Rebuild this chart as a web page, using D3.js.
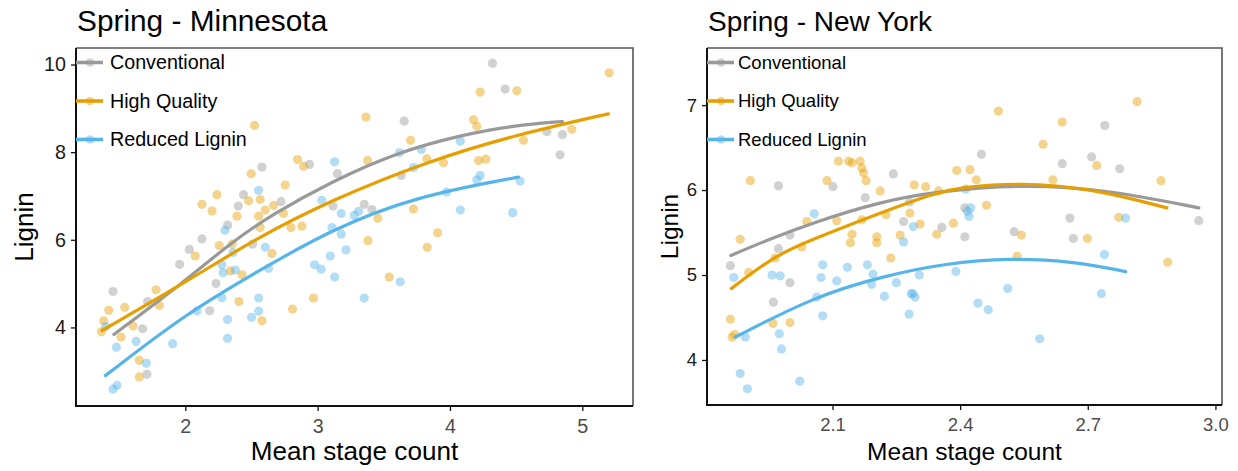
<!DOCTYPE html>
<html>
<head>
<meta charset="utf-8">
<script src="https://cdn.jsdelivr.net/npm/d3@7"></script>
<style>
  body { margin: 0; background: #fff; }
  svg { font-family: "Liberation Sans", Arial, sans-serif; }
  .title { fill: #000; }
  .axis-title { fill: #000; }
  .legend text { fill: #000; }
</style>
</head>
<body>
<div id="chart"></div>
<script>
var seriesNames = ["Conventional", "High Quality", "Reduced Lignin"];
var seriesColors = ["#999999", "#E69F00", "#56B4E9"];

// Spring - Minnesota
var mnXTicks = [2, 3, 4, 5];
var mnYTicks = [4, 6, 8, 10];

var mnConventional = [
  [2.579, 7.66], [2.939, 7.72], [2.44, 7.03], [2.40, 6.77], [2.723, 6.87], [2.32, 6.34], [2.126, 6.02],
  [4.321, 10.03], [4.417, 9.44], [3.654, 8.71], [4.732, 8.47], [4.85, 8.40], [4.832, 7.94], [3.631, 7.47],
  [3.15, 7.51], [3.116, 6.77], [3.352, 6.81], [3.41, 6.69], [2.03, 5.78], [1.957, 5.44], [1.454, 4.82],
  [2.232, 5.0], [2.184, 4.38], [1.677, 3.97], [1.715, 4.59], [1.71, 2.93], [2.508, 5.90]
];
var mnHighQuality = [
  [2.523, 8.61], [2.848, 7.83], [2.894, 7.68], [2.498, 7.51], [2.755, 7.25], [2.239, 7.03], [2.126, 6.81],
  [2.202, 6.66], [2.478, 6.89], [2.566, 6.92], [2.39, 6.54], [2.554, 6.54], [2.604, 6.68], [2.667, 6.78],
  [2.742, 6.60], [2.566, 6.28], [2.798, 6.28], [2.881, 6.31], [5.202, 9.81], [4.228, 9.37], [4.505, 9.40],
  [3.365, 8.80], [4.178, 8.74], [4.203, 8.59], [4.921, 8.52], [4.555, 8.27], [3.702, 8.27], [3.377, 7.81],
  [3.825, 7.85], [3.951, 7.76], [4.216, 7.81], [4.271, 7.84], [3.724, 6.70], [3.455, 6.49], [3.907, 6.16],
  [3.38, 5.98], [2.075, 5.63], [2.257, 5.87], [2.353, 5.90], [2.655, 5.69], [2.428, 5.2], [2.34, 5.29],
  [1.779, 4.86], [1.804, 4.50], [1.542, 4.46], [1.421, 4.39], [1.383, 4.15], [1.366, 3.90], [1.514, 3.78],
  [1.605, 4.03], [1.652, 3.25], [1.652, 2.87], [2.405, 4.59], [2.579, 4.15], [2.81, 4.42], [2.969, 4.67],
  [3.828, 5.83], [3.541, 5.15]
];
var mnReducedLignin = [
  [2.554, 7.13], [3.032, 6.90], [2.30, 6.22], [3.619, 7.99], [3.128, 7.78], [4.078, 8.25], [3.783, 8.06],
  [3.724, 7.65], [4.228, 7.47], [4.203, 7.37], [4.53, 7.34], [3.974, 7.09], [3.178, 6.60], [3.276, 6.56],
  [3.309, 6.65], [4.078, 6.68], [4.474, 6.62], [3.108, 6.28], [3.178, 6.13], [2.277, 5.43], [2.285, 5.25],
  [2.378, 5.31], [2.36, 5.71], [2.604, 5.83], [2.629, 5.35], [2.277, 4.68], [2.088, 4.38], [2.319, 4.18],
  [2.319, 3.75], [2.50, 4.23], [2.554, 4.37], [2.554, 4.67], [1.904, 3.63], [1.628, 3.68], [1.479, 3.55],
  [1.705, 3.18], [1.484, 2.68], [1.454, 2.59], [2.977, 5.43], [3.027, 5.33], [3.095, 5.63], [3.214, 5.77],
  [3.128, 5.15], [3.624, 5.04], [3.352, 4.67], [1.40, 4.02]
];
var mnConventionalFit = [[1.46, 3.84], [2.0, 5.06], [2.35, 5.95], [2.67, 6.60], [3.1, 7.32], [3.6, 8.0], [4.1, 8.40], [4.46, 8.60], [4.85, 8.70]];
var mnHighQualityFit = [[1.371, 3.93], [2.013, 5.05], [2.516, 6.0], [3.095, 6.90], [3.85, 7.81], [4.48, 8.38], [5.197, 8.875]];
var mnReducedLigninFit = [[1.396, 2.90], [2.013, 4.33], [2.542, 5.27], [3.095, 6.22], [3.724, 6.98], [4.517, 7.43]];

// Spring - New York
var nyXTicks = [2.1, 2.4, 2.7, 3.0];
var nyYTicks = [4, 5, 6, 7];

var nyConventional = [
  [1.973, 6.05], [2.101, 6.04], [2.243, 6.19], [2.177, 5.91], [2.281, 5.86], [2.267, 5.63], [2.357, 5.56],
  [2.0, 5.47], [2.45, 6.42], [2.74, 6.76], [2.64, 6.31], [2.709, 6.39], [2.775, 6.25], [2.658, 5.67],
  [2.961, 5.64], [2.411, 5.79], [2.527, 5.51], [2.411, 5.45], [2.666, 5.43], [1.86, 5.11], [1.973, 5.31],
  [2.0, 4.91], [1.961, 4.68]
];
var nyHighQuality = [
  [1.907, 6.11], [2.087, 6.11], [2.114, 6.34], [2.138, 6.34], [2.146, 6.32], [2.165, 6.34], [2.169, 6.26],
  [2.173, 6.20], [2.179, 6.11], [2.212, 5.99], [2.292, 6.06], [2.319, 6.04], [2.349, 5.99], [2.392, 6.23],
  [2.226, 5.71], [2.282, 5.73], [2.169, 5.65], [2.040, 5.63], [2.11, 5.64], [2.204, 5.45], [2.259, 5.47],
  [2.306, 5.60], [1.883, 5.42], [2.146, 5.48], [2.345, 5.48], [2.384, 5.61], [2.490, 6.93], [2.816, 7.04],
  [2.64, 6.80], [2.595, 6.54], [2.721, 6.29], [2.872, 6.11], [2.423, 6.24], [2.438, 6.12], [2.618, 6.12],
  [2.462, 5.82], [2.773, 5.68], [2.544, 5.47], [2.699, 5.43], [1.965, 5.20], [1.903, 5.03], [1.86, 4.48],
  [1.864, 4.27], [1.87, 4.30], [1.96, 4.43], [2.0, 4.44], [2.028, 5.33], [2.142, 5.38], [2.204, 5.38],
  [2.237, 5.20], [2.534, 5.22], [2.888, 5.15]
];
var nyReducedLignin = [
  [2.057, 5.72], [2.29, 5.57], [2.425, 5.79], [2.417, 5.75], [2.421, 5.69], [2.789, 5.67], [2.413, 6.01],
  [1.868, 4.97], [1.958, 5.0], [1.977, 4.99], [1.895, 4.27], [1.975, 4.31], [1.98, 4.13], [1.883, 3.84],
  [1.90, 3.66], [2.023, 3.75], [2.063, 4.74], [2.077, 5.12], [2.073, 4.97], [2.077, 4.52], [2.11, 4.93],
  [2.135, 5.09], [2.182, 5.12], [2.195, 5.01], [2.192, 4.89], [2.222, 4.75], [2.25, 4.91], [2.267, 5.39],
  [2.28, 4.54], [2.285, 4.78], [2.289, 4.78], [2.294, 4.74], [2.304, 5.0], [2.39, 5.04], [2.739, 5.24],
  [2.512, 4.84], [2.442, 4.67], [2.466, 4.59], [2.732, 4.78], [2.587, 4.25]
];
var nyConventionalFit = [[1.861, 5.23], [1.946, 5.41], [2.055, 5.62], [2.212, 5.86], [2.337, 5.98], [2.554, 6.07], [2.75, 6.0], [2.961, 5.79]];
var nyHighQualityFit = [[1.862, 4.84], [1.962, 5.22], [2.048, 5.41], [2.212, 5.73], [2.337, 5.96], [2.397, 6.03], [2.538, 6.09], [2.71, 6.02], [2.886, 5.79]];
var nyReducedLigninFit = [[1.872, 4.27], [2.055, 4.74], [2.212, 4.98], [2.369, 5.14], [2.515, 5.20], [2.671, 5.16], [2.789, 5.04]];

var width = 1238;
var height = 471;

var svg = d3.select("#chart").append("svg")
  .attr("width", width)
  .attr("height", height);

function drawPanel(opts) {
  var k = opts.fontScale;
  var x = d3.scaleLinear().domain(opts.xDomain).range([opts.left, opts.right]);
  var y = d3.scaleLinear().domain(opts.yDomain).range([opts.bottom, opts.top]);
  var g = svg.append("g");

  // top and right border
  g.append("path")
    .attr("d", "M" + opts.left + "," + opts.top + "H" + opts.right + "V" + opts.bottom)
    .attr("fill", "none")
    .attr("stroke", "#555")
    .attr("stroke-width", 1.6);

  opts.series.forEach(function(s, i) {
    g.append("g").selectAll("circle")
      .data(s.points)
      .enter().append("circle")
        .attr("cx", function(d) { return x(d[0]); })
        .attr("cy", function(d) { return y(d[1]); })
        .attr("r", 4.6)
        .attr("fill", seriesColors[i])
        .attr("fill-opacity", 0.45);
  });

  var line = d3.line()
    .x(function(d) { return x(d[0]); })
    .y(function(d) { return y(d[1]); })
    .curve(d3.curveBasis);

  opts.series.forEach(function(s, i) {
    g.append("path")
      .datum(s.fit)
      .attr("d", line)
      .attr("fill", "none")
      .attr("stroke", seriesColors[i])
      .attr("stroke-width", 3.2)
      .attr("stroke-linecap", "round");
  });

  var xAxis = d3.axisBottom(x)
    .tickValues(opts.xTicks)
    .tickSize(5)
    .tickSizeOuter(0)
    .tickPadding(8)
    .tickFormat(opts.xFormat);

  var yAxis = d3.axisLeft(y)
    .tickValues(opts.yTicks)
    .tickSize(5)
    .tickSizeOuter(0)
    .tickPadding(5)
    .tickFormat(d3.format("d"));

  var gx = g.append("g")
    .attr("transform", "translate(0," + opts.bottom + ")")
    .call(xAxis);
  gx.select(".domain").attr("stroke", "#111").attr("stroke-width", 2)
    .attr("d", "M" + (opts.left - 1) + ",0H" + opts.right);
  gx.selectAll(".tick line").attr("stroke", "#111").attr("stroke-width", 1.3);
  gx.selectAll(".tick text")
    .attr("font-size", (18.5 * k) + "px")
    .attr("font-family", "Liberation Sans, Arial, sans-serif")
    .attr("fill", "#4d4d4d");

  var gy = g.append("g")
    .attr("transform", "translate(" + opts.left + ",0)")
    .call(yAxis);
  gy.select(".domain").attr("stroke", "#111").attr("stroke-width", 2)
    .attr("d", "M0," + opts.top + "V" + (opts.bottom + 1));
  gy.selectAll(".tick line").attr("stroke", "#111").attr("stroke-width", 1.3);
  gy.selectAll(".tick text")
    .attr("font-size", (18.5 * k) + "px")
    .attr("font-family", "Liberation Sans, Arial, sans-serif")
    .attr("fill", "#1a1a1a");

  // legend inside plot area
  var legend = g.append("g").attr("class", "legend");
  var rows = legend.selectAll("g")
    .data(opts.series)
    .enter().append("g")
      .attr("transform", function(d, i) {
        return "translate(" + opts.left + "," + (opts.top + 14.5 + i * 38.5) + ")";
      });

  rows.append("line")
    .attr("x1", 0)
    .attr("x2", 27)
    .attr("stroke", function(d, i) { return seriesColors[i]; })
    .attr("stroke-width", 3.6);

  rows.append("circle")
    .attr("cx", 14)
    .attr("r", 4.2)
    .attr("fill", function(d, i) { return seriesColors[i]; })
    .attr("fill-opacity", 0.45);

  rows.append("text")
    .attr("x", opts.legendTextX)
    .attr("dy", "0.35em")
    .attr("font-size", (18.5 * k) + "px")
    .text(function(d) { return d.name; });

  svg.append("text")
    .attr("class", "title")
    .attr("x", opts.left + 1)
    .attr("y", 31)
    .attr("font-size", (28 * k) + "px")
    .text(opts.title);

  svg.append("text")
    .attr("class", "axis-title")
    .attr("x", (opts.left + opts.right) / 2)
    .attr("y", 460)
    .attr("text-anchor", "middle")
    .attr("font-size", (24.5 * k) + "px")
    .text("Mean stage count");

  svg.append("text")
    .attr("class", "axis-title")
    .attr("transform", "translate(" + opts.yTitleX + "," + ((opts.top + opts.bottom) / 2) + ") rotate(-90)")
    .attr("text-anchor", "middle")
    .attr("font-size", (24.5 * k) + "px")
    .text("Lignin");
}

drawPanel({
  title: "Spring - Minnesota",
  left: 76, right: 633, top: 48, bottom: 406,
  xDomain: [1.174, 5.383],
  yDomain: [2.207, 10.377],
  xTicks: mnXTicks,
  yTicks: mnYTicks,
  xFormat: d3.format("d"),
  yTitleX: 33,
  fontScale: 1.065,
  legendTextX: 34,
  series: [
    { name: seriesNames[0], points: mnConventional, fit: mnConventionalFit },
    { name: seriesNames[1], points: mnHighQuality, fit: mnHighQualityFit },
    { name: seriesNames[2], points: mnReducedLignin, fit: mnReducedLigninFit }
  ]
});

drawPanel({
  title: "Spring - New York",
  left: 707, right: 1222, top: 48, bottom: 405,
  xDomain: [1.805, 3.0155],
  yDomain: [3.47, 7.672],
  xTicks: nyXTicks,
  yTicks: nyYTicks,
  xFormat: d3.format(".1f"),
  yTitleX: 678,
  fontScale: 1,
  legendTextX: 31,
  series: [
    { name: seriesNames[0], points: nyConventional, fit: nyConventionalFit },
    { name: seriesNames[1], points: nyHighQuality, fit: nyHighQualityFit },
    { name: seriesNames[2], points: nyReducedLignin, fit: nyReducedLigninFit }
  ]
});
</script>
</body>
</html>
